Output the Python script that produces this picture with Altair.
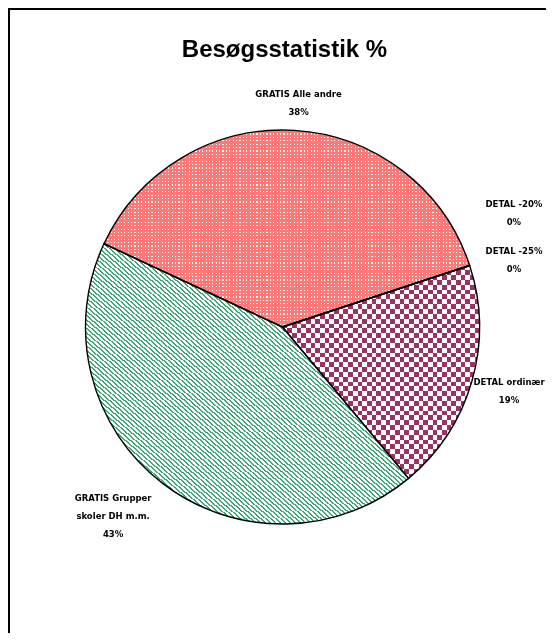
import math
import altair as alt
import pandas as pd

# ---------------- data ----------------
TITLE = "Besøgsstatistik %"
CATEGORIES = ["GRATIS Alle andre", "DETAL -20%", "DETAL -25%", "DETAL ordinær",
              "GRATIS Grupper skoler DH m.m."]
VALUES = [38, 0, 0, 19, 43]
LABEL_NAMES = ["GRATIS Alle andre", "DETAL -20%", "DETAL -25%", "DETAL ordinær",
               "GRATIS Grupper\nskoler DH m.m."]

# ---------------- layout / style ----------------
W, H = 538, 625
CX, CY, R = 274.5, 319, 197
START_DEG = -65
LABEL_RADIUS = [233.6, 262.1, 243.7, 233.1, 240.8]
LABEL_NUDGE_DEG = [0.55, -9.8, 0.0, -2.35, 7.1]
RED, PURPLE, GREEN = "#FF7878", "#993366", "#3DAA78"
LABEL_FONT = "DejaVu Sans"


def stripes(n, frac, ca, cb, x1, y1, x2, y2):
    stops = []
    for i in range(n):
        s, m, e = i / n, (i + frac) / n, (i + 1) / n
        stops += [{"offset": round(s, 5), "color": ca},
                  {"offset": round(m, 5), "color": ca},
                  {"offset": round(m, 5), "color": cb},
                  {"offset": round(e, 5), "color": cb}]
    return {"gradient": "linear", "x1": x1, "y1": y1, "x2": x2, "y2": y2, "stops": stops}


df = pd.DataFrame({
    "category": CATEGORIES,
    "value": VALUES,
    "order": list(range(len(VALUES))),
    "label": [f"{n}\n{v}%" for n, v in zip(LABEL_NAMES, VALUES)],
    "label_r": LABEL_RADIUS,
    "nudge": LABEL_NUDGE_DEG,
})

start = math.radians(START_DEG)
theta_scale = alt.Scale(domain=[0, 100], range=[start, start + 2 * math.pi])

base = alt.Chart(df).transform_window(
    cum_end="sum(value)", sort=[alt.SortField("order")], frame=[None, 0]
).transform_calculate(
    cum_start="datum.cum_end - datum.value",
    mid="(datum.cum_start + datum.cum_end) / 2 + datum.nudge / 3.6",
)


def slice_layer(cat, fill, blend=None):
    kw = dict(radius=R, fill=fill, strokeWidth=0)
    if blend:
        kw["blend"] = blend
    return base.transform_filter(alt.datum.category == cat).mark_arc(**kw).encode(
        theta=alt.Theta("cum_start:Q", scale=theta_scale, stack=None),
        theta2="cum_end:Q",
        x=alt.value(CX), y=alt.value(CY),
    )


# red: white dot grid (AND of two stripe sets via darken)
red1 = slice_layer(CATEGORIES[0], stripes(108, 0.35, "#FFFFFF", RED, 0, 0, 1, 0))
red2 = slice_layer(CATEGORIES[0], stripes(58, 0.35, "#FFFFFF", RED, 0, 0, 0, 1), "darken")
# purple: checkerboard (XOR via difference, then screen with purple)
pur1 = slice_layer(CATEGORIES[3], stripes(21, 0.5, "#000000", "#FFFFFF", 0, 0, 1, 0))
pur2 = slice_layer(CATEGORIES[3], stripes(22, 0.5, "#000000", "#FFFFFF", 0, 0, 0, 1), "difference")
pur3 = slice_layer(CATEGORIES[3], PURPLE, "screen")
# green: diagonal stripes
grn1 = slice_layer(CATEGORIES[4], stripes(129, 0.42, GREEN, "#FFFFFF", 0, 1, 1, 0))

outline = base.mark_arc(radius=R, filled=False, stroke="black", strokeWidth=1.4).encode(
    theta=alt.Theta("cum_start:Q", scale=theta_scale, stack=None),
    theta2="cum_end:Q",
    x=alt.value(CX), y=alt.value(CY),
)

labels = base.mark_text(
    font=LABEL_FONT, fontSize=8.5, fontWeight="bold", lineBreak="\n", lineHeight=18,
    align="center", baseline="middle", color="black",
).encode(
    theta=alt.Theta("mid:Q", scale=theta_scale, stack=None),
    radius=alt.Radius("label_r:Q", scale=None),
    text="label:N",
    x=alt.value(CX), y=alt.value(CY),
)

tdf = pd.DataFrame({"t": [TITLE]})
title = alt.Chart(tdf).mark_text(
    font="Liberation Sans", fontSize=24, fontWeight="bold", align="center",
    baseline="alphabetic", color="black",
).encode(text="t:N", x=alt.value(276.5), y=alt.value(49))

border_left = alt.Chart(tdf).mark_rule(color="black", strokeWidth=2).encode(
    x=alt.value(1), y=alt.value(0), y2=alt.value(H))
border_top = alt.Chart(tdf).mark_rule(color="black", strokeWidth=2).encode(
    x=alt.value(0), x2=alt.value(W), y=alt.value(1))

chart = alt.layer(
    red1, red2, pur1, pur2, pur3, grn1, outline, labels, title, border_left, border_top
).properties(
    width=W, height=H, padding=0, background="white",
    autosize=alt.AutoSizeParams(type="none"),
).configure_view(stroke=None)

chart.save("out.html", embed_options={"renderer": "svg", "actions": False})
